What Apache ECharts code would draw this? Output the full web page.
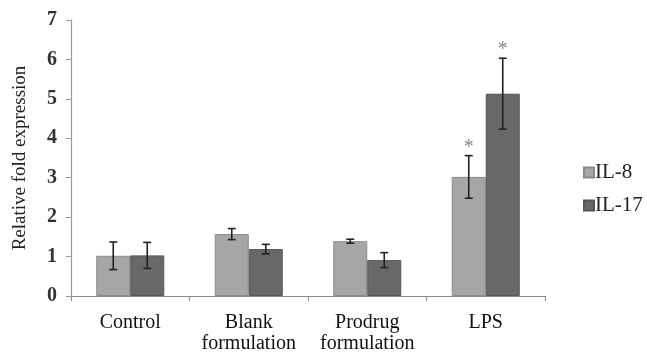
<!DOCTYPE html>
<html><head><meta charset="utf-8">
<script src="https://cdn.jsdelivr.net/npm/echarts@6/dist/echarts.min.js"></script>
<style>html,body{margin:0;padding:0;background:#fff}#c{width:647px;height:352px}</style>
</head><body><div id="c"></div>
<script>
var categories = ['Control', 'Blank\nformulation', 'Prodrug\nformulation', 'LPS'];
var seriesNames = ['IL-8', 'IL-17'];
var il8 = [1.02, 1.57, 1.39, 3.02];
var il8Err = [0.35, 0.14, 0.05, 0.54];
var il17 = [1.03, 1.19, 0.91, 5.13];
var il17Err = [0.33, 0.12, 0.19, 0.90];
var il8Star = [false, false, false, true];
var il17Star = [false, false, false, true];
var yTicks = [0, 1, 2, 3, 4, 5, 6, 7];

var colors = ['#a6a6a6', '#686868'];
var serif = '"Liberation Serif", "DejaVu Serif", serif';
var BW = 34;

function errData(vals, errs, stars) {
  return vals.map(function (v, i) { return [i, v, errs[i], stars[i] ? 1 : 0]; });
}
function errSeries(name, vals, errs, stars, offset) {
  return {
    type: 'custom', name: name + ' err', z: 5, silent: true,
    data: errData(vals, errs, stars),
    encode: { x: 0, y: 1 },
    renderItem: function (params, api) {
      var i = api.value(0), v = api.value(1), e = api.value(2), s = api.value(3);
      var top = api.coord([i, v + e]);
      var bot = api.coord([i, v - e]);
      var x = top[0] + offset;
      var cap = 4;
      var st = { stroke: '#222', lineWidth: 1.6 };
      var children = [
        { type: 'line', shape: { x1: x, y1: top[1], x2: x, y2: bot[1] }, style: st },
        { type: 'line', shape: { x1: x - cap, y1: top[1], x2: x + cap, y2: top[1] }, style: st },
        { type: 'line', shape: { x1: x - cap, y1: bot[1], x2: x + cap, y2: bot[1] }, style: st }
      ];
      if (s) {
        children.push({ type: 'text', style: { text: '*', x: x, y: top[1] - 8, textAlign: 'center', textVerticalAlign: 'middle', fill: '#888', font: '20px ' + serif } });
      }
      return { type: 'group', children: children };
    }
  };
}

var chart = echarts.init(document.getElementById('c'));
chart.setOption({
  animation: false,
  grid: { left: 71, right: 102, top: 20, bottom: 56, containLabel: false, outerBoundsMode: 'none' },
  legend: {
    orient: 'vertical', left: 578, top: 157, itemWidth: 10, itemHeight: 10, itemGap: 12,
    data: seriesNames,
    textStyle: { fontFamily: serif, fontSize: 21, color: '#222', padding: [0, 0, 0, -4] },
    icon: 'rect'
  },
  xAxis: {
    type: 'category', data: categories,
    axisLine: { lineStyle: { color: '#8c8c8c', width: 1.2 } },
    axisTick: { show: true, length: 5, lineStyle: { color: '#8c8c8c' } },
    axisLabel: { fontFamily: serif, fontSize: 20, color: '#111', margin: 16, lineHeight: 21, interval: 0 }
  },
  yAxis: {
    type: 'value', min: 0, max: 7, interval: 1,
    name: 'Relative fold expression', nameLocation: 'middle', nameGap: 41, nameRotate: 90,
    nameTextStyle: { fontFamily: serif, fontSize: 19, color: '#222' },
    axisLine: { show: true, lineStyle: { color: '#9a9a9a', width: 1.2 } },
    axisTick: { show: true, length: 5, lineStyle: { color: '#9a9a9a' } },
    splitLine: { show: false },
    axisLabel: { fontFamily: serif, fontSize: 20, fontWeight: 'bold', color: '#333', margin: 14,
      formatter: function (v) { return yTicks.indexOf(v) >= 0 ? String(v) : ''; } }
  },
  series: [
    { type: 'bar', name: seriesNames[0], data: il8, barWidth: BW, barGap: '0%',
      itemStyle: { color: colors[0], borderColor: '#8a8a8a', borderWidth: 1 } },
    { type: 'bar', name: seriesNames[1], data: il17, barWidth: BW, barGap: '0%',
      itemStyle: { color: colors[1], borderColor: '#555', borderWidth: 1 } },
    errSeries(seriesNames[0], il8, il8Err, il8Star, -BW / 2),
    errSeries(seriesNames[1], il17, il17Err, il17Star, BW / 2)
  ]
});
</script></body></html>
